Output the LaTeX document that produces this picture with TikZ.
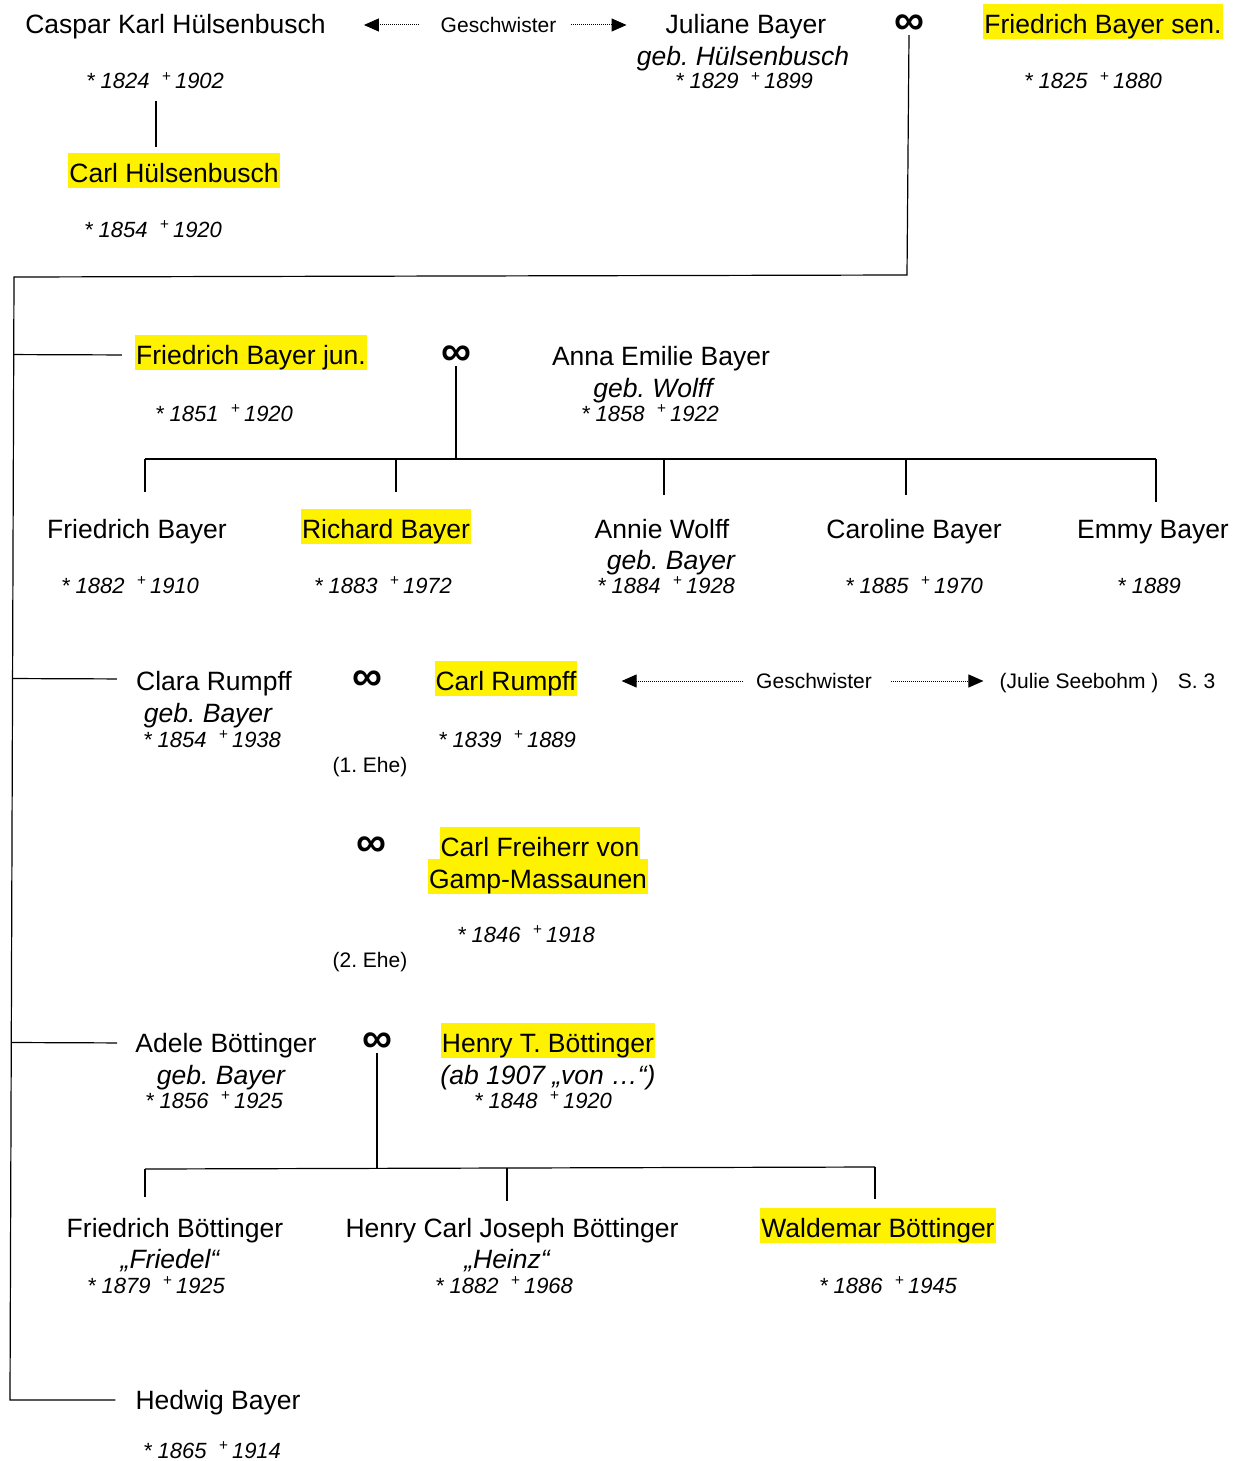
\documentclass[tikz,border=0pt]{standalone}
\usepackage{fontspec}
\setmainfont{Liberation Sans}
\usepackage{tikz}
\usetikzlibrary{arrows.meta}
\usetikzlibrary{calc}
\frenchspacing
\newcommand\lebens[2]{* #1\ \ \textsuperscript{+}\,#2}

\begin{document}
\begin{tikzpicture}[x=1pt, y=-1pt,
	pname/.style={anchor=base, inner xsep=1pt, inner ysep=1.5pt, text height=28pt, text depth=4pt, font=\fontsize{26.5}{30}\selectfont},
	hl/.style={pname, fill=yellow},
	geb/.style={anchor=base, inner sep=0pt, font=\fontsize{26.5}{30}\selectfont\itshape},
	dates/.style={anchor=base, inner sep=0pt, text depth=4pt, font=\fontsize{22}{24}\selectfont\itshape},
	txt/.style={anchor=base, inner sep=0pt, font=\fontsize{21}{24}\selectfont},
	ehe/.style={inner sep=0pt, font=\fontsize{42}{42}\selectfont\bfseries},
	geschw/.style={black, line width=1pt, dash pattern=on 1pt off 1pt, -{Triangle[length=15pt, width=13pt]}},
	tree/.style={black, line width=1.2pt}]
	\useasboundingbox (0,0) rectangle (1246,1461);

	\node[pname] (caspar) at (175.5,34) {Caspar Karl Hülsenbusch};
	\node[dates] (casd) at (155,89) {\lebens{1824}{1902}};
	\node[txt] (gs1) at (498.5,32.5) {Geschwister};
	\node[pname] (juliane) at (746,34) {Juliane Bayer};
	\node[geb] (jgeb) at (743,66) {geb. Hülsenbusch};
	\node[dates] (jd) at (744,89) {\lebens{1829}{1899}};
	\node[ehe] (m0) at (909,25) {∞};
	\node[hl] (fsen) at (1103,34) {Friedrich Bayer sen.};
	\node[dates] (fsend) at (1093,89) {\lebens{1825}{1880}};
	\node[hl] (chue) at (174,182) {Carl Hülsenbusch};
	\node[dates] (chued) at (153,237) {\lebens{1854}{1920}};

	\draw[geschw, shorten <=22pt, shorten >=37pt] (gs1.west) -- (gs1.west -| caspar.east);
	\draw[geschw, shorten <=15pt, shorten >=38pt] (gs1.east) -- (gs1.east -| juliane.west);
	\draw[tree, shorten <=8pt, shorten >=5pt] (casd.south -| 156,0) -- (chue.north -| 156,0);

	\coordinate (k0) at (907,275);
	\coordinate (t0) at (14,277);
	\coordinate (t5) at (10,1400);

	\node[hl] (fjun) at (251,364) {Friedrich Bayer jun.};
	\node[dates] (fjund) at (224,421) {\lebens{1851}{1920}};
	\node[ehe] (m1) at (456,356) {∞};
	\node[pname] (anna) at (661,365) {Anna Emilie Bayer};
	\node[geb] (ageb) at (653,397) {geb. Wolff};
	\node[dates] (annad) at (650,421) {\lebens{1858}{1922}};

	\node[pname] (kfb) at (137,538) {Friedrich Bayer};
	\node[hl] (krb) at (386,538) {Richard Bayer};
	\node[pname] (kaw) at (662,538) {Annie Wolff};
	\node[geb] (kawgeb) at (671,569) {geb. Bayer};
	\node[pname] (kcb) at (914,538) {Caroline Bayer};
	\node[pname] (keb) at (1153,538) {Emmy Bayer};
	\node[dates] (kfbd) at (130,593) {\lebens{1882}{1910}};
	\node[dates] (krbd) at (383,593) {\lebens{1883}{1972}};
	\node[dates] (kawd) at (666,593) {\lebens{1884}{1928}};
	\node[dates] (kcbd) at (914,593) {\lebens{1885}{1970}};
	\node[dates] (kebd) at (1149,593) {* 1889};

	\node[pname] (clara) at (214,690) {Clara Rumpff};
	\node[geb] (cgeb) at (208,722) {geb. Bayer};
	\node[dates] (clarad) at (212,747) {\lebens{1854}{1938}};
	\node[ehe] (m2) at (367,681) {∞};
	\node[hl] (crumpff) at (506,690) {Carl Rumpff};
	\node[dates] (crumpffd) at (507,747) {\lebens{1839}{1889}};
	\node[txt] (ehe1) at (370,772) {(1. Ehe)};
	\node[txt] (gs2) at (814,688.5) {Geschwister};
	\node[txt] (julie) at (1079,688.5) {(Julie Seebohm )};
	\node[txt] (seite) at (1196.5,688.5) {S. 3};
	\draw[geschw, shorten <=13pt, shorten >=44pt] (gs2.west) -- (gs2.west -| crumpff.east);
	\draw[geschw, shorten <=19pt, shorten >=16pt] (gs2.east) -- (gs2.east -| julie.west);

	\node[ehe] (m3) at (371,847) {∞};
	\node[hl] (gamp1) at (540,856) {Carl Freiherr von};
	\node[hl] (gamp2) at (538,888) {Gamp-Massaunen};
	\node[dates] (gampd) at (526,942) {\lebens{1846}{1918}};
	\node[txt] (ehe2) at (370,967) {(2. Ehe)};

	\node[pname] (adele) at (226,1052) {Adele Böttinger};
	\node[geb] (adgeb) at (221,1084) {geb. Bayer};
	\node[dates] (adeled) at (214,1108) {\lebens{1856}{1925}};
	\node[ehe] (m4) at (377,1043) {∞};
	\node[hl] (henry) at (548,1052) {Henry T. Böttinger};
	\node[geb] (hvon) at (548,1084) {(ab 1907 „von …“)};
	\node[dates] (henryd) at (543,1108) {\lebens{1848}{1920}};

	\node[pname] (bfr) at (175,1237) {Friedrich Böttinger};
	\node[geb] (bfrn) at (170,1268) {„Friedel“};
	\node[dates] (bfrd) at (156,1293) {\lebens{1879}{1925}};
	\node[pname] (bhe) at (512,1237) {Henry Carl Joseph Böttinger};
	\node[geb] (bhen) at (507,1268) {„Heinz“};
	\node[dates] (bhed) at (504,1293) {\lebens{1882}{1968}};
	\node[hl] (bwa) at (878,1237) {Waldemar Böttinger};
	\node[dates] (bwad) at (888,1293) {\lebens{1886}{1945}};

	\node[pname] (hedwig) at (218,1409) {Hedwig Bayer};
	\node[dates] (hedwigd) at (212,1458) {\lebens{1865}{1914}};

	\draw[tree, shorten >=19pt] (m0.south) -- (k0) -- (t0) -- (t5) -- (hedwig.west |- t5);
	\draw[tree, shorten >=13pt] ($(t0)!([yshift=-3pt]fjun.west)!(t5)$) -- ([yshift=-3pt]fjun.west);
	\draw[tree, shorten >=18pt] ($(t0)!([yshift=-1pt]clara.west)!(t5)$) -- ([yshift=-1pt]clara.west);
	\draw[tree, shorten >=17pt] ($(t0)!([yshift=-3pt]adele.west)!(t5)$) -- ([yshift=-3pt]adele.west);

	\coordinate (b1) at (145,459);
	\coordinate (d2) at (396,459);
	\coordinate (d3) at (664,459);
	\coordinate (d4) at (906,459);
	\coordinate (b2) at (1156,459);
	\draw[tree] (m1.south) -- (m1.south |- b1);
	\draw[tree] (b1) -- (b2);
	\foreach \d/\k/\s in {b1/kfb/16, d2/krb/16, d3/kaw/13, d4/kcb/13, b2/keb/6}
		\draw[tree, shorten >=\s pt] (\d) -- (\d |- \k.north);

	\coordinate (c1) at (145,1169);
	\coordinate (c2) at (507,1168);
	\coordinate (c3) at (875,1167);
	\draw[tree] (m4.south) -- (m4.south |- c2);
	\draw[tree] (c1) -- (c3);
	\foreach \d/\k/\s in {c1/bfr/10, c2/bhe/6, c3/bwa/8}
		\draw[tree, shorten >=\s pt] (\d) -- (\d |- \k.north);
\end{tikzpicture}
\end{document}
